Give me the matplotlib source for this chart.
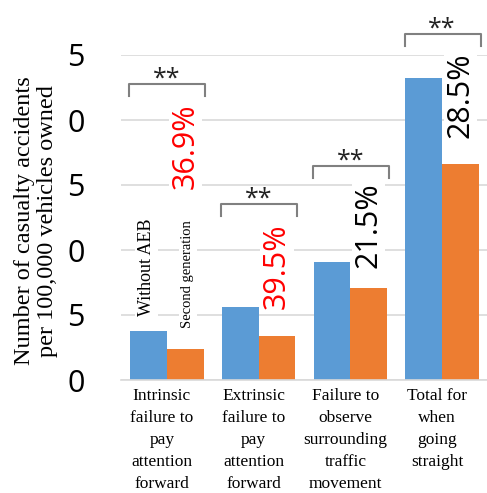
import matplotlib
matplotlib.use("Agg")
import matplotlib.pyplot as plt
from matplotlib.transforms import ScaledTranslation
import numpy as np

# Data
categories = [
    "Intrinsic\nfailure to\npay\nattention\nforward",
    "Extrinsic\nfailure to\npay\nattention\nforward",
    "Failure to\nobserve\nsurrounding\ntraffic\nmovement",
    "Total for\nwhen\ngoing\nstraight",
]
without_aeb = [3.8, 5.64, 9.05, 23.25]
second_gen = [2.40, 3.41, 7.10, 16.62]
reduction_labels = ["36.9%", "39.5%", "21.5%", "28.5%"]
significance = ["**", "**", "**", "**"]
ytick_values = [0, 5, 10, 15, 20, 25]
ytick_labels = ["0", "5", "0", "5", "0", "5"]

# Layout
label_y = [17.96, 8.73, 11.9, 21.9]
label_colors = ["#FF0000", "#FF0000", "#000000", "#000000"]
bracket_y = [22.77, 13.54, 16.46, 26.6]

BLUE = "#5B9BD5"
ORANGE = "#ED7D31"
GRID = "#D9D9D9"

fig = plt.figure(figsize=(4.87, 4.93), dpi=100)
W, H = 487, 493
ax_left, ax_right, ax_top, ax_bottom = 121, 488, 55, 380
ax = fig.add_axes([ax_left / W, 1 - ax_bottom / H,
                   (ax_right - ax_left) / W, (ax_bottom - ax_top) / H])

x = np.arange(len(categories))
bw = 0.4
ax.bar(x - bw / 2, without_aeb, width=bw, color=BLUE, zorder=2)
ax.bar(x + bw / 2, second_gen, width=bw, color=ORANGE, zorder=2)

ax.set_xlim(-0.5, 3.5)
ax.set_ylim(0, 25)
ax.set_yticks(ytick_values)
ax.set_yticklabels(ytick_labels, fontfamily="Open Sans", fontsize=22)
ax.yaxis.grid(True, color=GRID, lw=1.2, zorder=0)
ax.set_axisbelow(True)
for s in ["top", "right", "left"]:
    ax.spines[s].set_visible(False)
ax.spines["bottom"].set_color(GRID)
ax.spines["bottom"].set_linewidth(1.2)
ax.tick_params(axis="both", length=0)
ax.tick_params(axis="y", pad=26)

ax.set_xticks(x)
ax.set_xticklabels(categories, fontfamily="Liberation Serif", fontsize=12.5,
                   linespacing=1.5)
ax.tick_params(axis="x", pad=6)
for lab in ax.get_xticklabels():
    lab.set_transform(lab.get_transform() + ScaledTranslation(-0.05, 0, fig.dpi_scale_trans))

ax.set_ylabel("Number of casualty accidents\nper 100,000 vehicles owned",
              fontfamily="Liberation Serif", fontsize=17.5, linespacing=1.12)
ax.yaxis.set_label_coords(-0.172, 0.49)

# Significance brackets
for i in range(len(categories)):
    y0 = bracket_y[i]
    leg = 0.9
    ax.plot([i - 0.41, i - 0.41, i + 0.42, i + 0.42],
            [y0 - leg, y0, y0, y0 - leg], color="#808080", lw=1.5,
            clip_on=False, zorder=3)
    ax.text(i, y0 - 0.1, significance[i], ha="center", va="baseline",
            fontfamily="Open Sans", fontsize=18, color="#222222", clip_on=False)

# Reduction percentages
for i in range(len(categories)):
    ax.text(i + 0.2, label_y[i], reduction_labels[i], rotation=90,
            ha="center", va="center", fontsize=22, color=label_colors[i],
            fontfamily=["Liberation Sans Narrow", "Open Sans"],
            bbox=dict(facecolor="white", edgecolor="none", pad=1), zorder=4)

# Series names on the first group
ax.text(-0.22, 8.65, "Without AEB", rotation=90, ha="center", va="center",
        fontfamily="Liberation Serif", fontsize=13,
        bbox=dict(facecolor="white", edgecolor="none", pad=2), zorder=4)
ax.text(0.23, 8.15, "Second generation", rotation=90, ha="center", va="center",
        fontfamily="Liberation Serif", fontsize=10.5,
        bbox=dict(facecolor="white", edgecolor="none", pad=2), zorder=4)

fig.savefig("out.png", dpi=100)
